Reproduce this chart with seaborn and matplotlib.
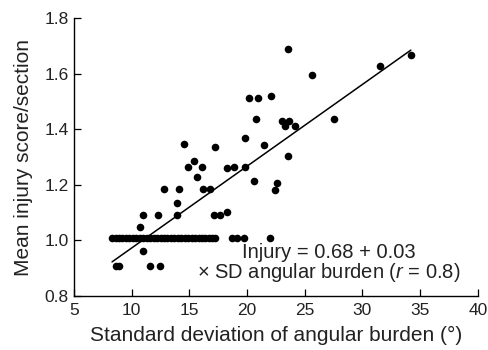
import numpy as np
import pandas as pd
import matplotlib
matplotlib.use("Agg")
import matplotlib.pyplot as plt
import seaborn as sns

# Points on the 1.01 baseline row
row_x = [8.3, 8.6, 8.9, 9.2, 9.5, 9.8, 10.1, 10.4, 10.7, 11.0, 11.3, 11.6, 11.9,
         12.2, 12.5, 12.8, 13.1, 13.4, 13.7, 14.0, 14.3, 14.6, 14.9, 15.2, 15.5,
         15.8, 16.1, 16.4, 16.7, 17.0, 17.2, 18.7, 19.1, 19.7, 22.0]
row_y = [1.01] * len(row_x)

# Remaining points
other_x = [14.55, 15.42, 14.87, 16.14, 15.67, 12.83, 14.1, 16.22, 16.78, 13.91,
           10.96, 12.26, 13.91, 10.7, 10.96, 8.67, 8.9, 11.62, 12.46,
           20.14, 20.92, 22.08, 20.76, 23.05, 23.63, 23.28, 24.13, 19.85, 21.5,
           17.24, 18.3, 18.87, 19.8, 23.58, 20.6, 22.63, 22.46, 17.1, 17.65,
           18.23, 23.53, 25.62, 31.53, 34.2, 27.56]
other_y = [1.348, 1.287, 1.266, 1.263, 1.227, 1.186, 1.186, 1.185, 1.185, 1.136,
           1.092, 1.092, 1.092, 1.049, 0.961, 0.91, 0.91, 0.91, 0.91,
           1.514, 1.514, 1.519, 1.436, 1.431, 1.431, 1.413, 1.413, 1.367, 1.344,
           1.335, 1.262, 1.266, 1.263, 1.305, 1.214, 1.208, 1.183, 1.093, 1.09,
           1.104, 1.689, 1.594, 1.629, 1.668, 1.438]

intercept = 0.679
slope = 0.0294

x_ticks = [5, 10, 15, 20, 25, 30, 35, 40]
y_ticks = [0.8, 1.0, 1.2, 1.4, 1.6, 1.8]
y_tick_labels = ["0.8", "1.0", "1.2", "1.4", "1.6", "1.8"]

df = pd.DataFrame({"x": row_x + other_x, "y": row_y + other_y})

sns.set_theme(style="ticks")
plt.rcParams["font.family"] = ["Liberation Sans", "DejaVu Sans"]
plt.rcParams["mathtext.fontset"] = "custom"
plt.rcParams["mathtext.it"] = "Liberation Sans:italic"
plt.rcParams["mathtext.rm"] = "Liberation Sans"

TXT = "#222222"

fig = plt.figure(figsize=(4.88, 3.5), dpi=100)
ax = fig.add_axes([0.1516, 0.154, 0.8274, 0.7946])

sns.scatterplot(data=df, x="x", y="y", color="black", s=30, linewidth=0, ax=ax, zorder=3)

line_x = np.array([df["x"].min(), df["x"].max()])
line_df = pd.DataFrame({"x": line_x, "y": intercept + slope * line_x})
sns.lineplot(data=line_df, x="x", y="y", color="black", linewidth=1.1, ax=ax)

ax.set_xlim(5, 40)
ax.set_ylim(0.8, 1.8)
ax.set_xticks(x_ticks)
ax.set_yticks(y_ticks)
ax.set_yticklabels(y_tick_labels)
ax.tick_params(direction="in", length=5, width=0.9, labelsize=12.5, color="black",
               labelcolor=TXT)
ax.tick_params(axis="x", pad=5)
ax.tick_params(axis="y", pad=4)
for s in ["top", "right"]:
    ax.spines[s].set_visible(False)
for s in ["left", "bottom"]:
    ax.spines[s].set_linewidth(1.0)
    ax.spines[s].set_color("black")

ax.set_xlabel("Standard deviation of angular burden (°)", fontsize=15, color=TXT, labelpad=6)
ax.set_ylabel("Mean injury score/section", fontsize=15, color=TXT, labelpad=8)

ax.text(27.1, 0.937, "Injury = 0.68 + 0.03", ha="center", va="baseline", fontsize=14.5, color=TXT)
ax.text(27.1, 0.865, "× SD angular burden ($r$ = 0.8)", ha="center", va="baseline",
        fontsize=14.5, color=TXT)

fig.savefig("out.png", dpi=100)
